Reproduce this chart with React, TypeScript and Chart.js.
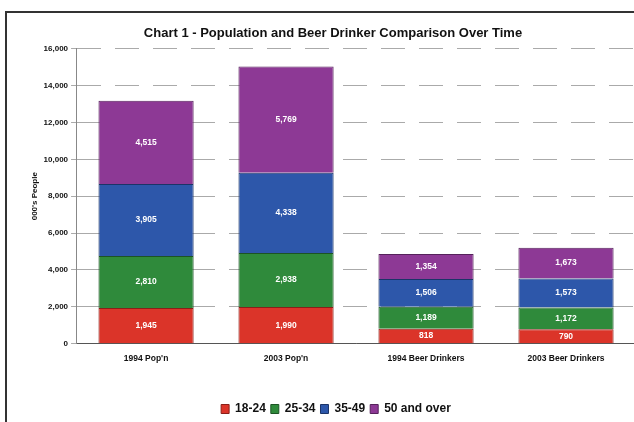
import React, { useEffect, useRef } from "react";
import { Chart, registerables } from "chart.js";

Chart.register(...registerables);

const categories = ["1994 Pop'n", "2003 Pop'n", "1994 Beer Drinkers", "2003 Beer Drinkers"];
const age18to24 = [1945, 1990, 818, 790];
const age25to34 = [2810, 2938, 1189, 1172];
const age35to49 = [3905, 4338, 1506, 1573];
const age50plus = [4515, 5769, 1354, 1673];
const seriesNames = ["18-24", "25-34", "35-49", "50 and over"];
const titleText = "Chart 1 - Population and Beer Drinker Comparison Over Time";
const yAxisTitle = "000's People";

const FONT = "'Liberation Sans', Arial, sans-serif";

const segmentLabels = {
  id: "segmentLabels",
  afterDatasetsDraw(chart: any) {
    const ctx = chart.ctx;
    ctx.save();
    ctx.fillStyle = "#ffffff";
    ctx.font = `bold 8.5px ${FONT}`;
    ctx.textAlign = "center";
    ctx.textBaseline = "middle";
    chart.data.datasets.forEach((ds: any, i: number) => {
      const meta = chart.getDatasetMeta(i);
      meta.data.forEach((el: any, j: number) => {
        const v = ds.data[j];
        const y = (el.y + el.base) / 2;
        ctx.fillText(v.toLocaleString("en-US"), el.x, y);
      });
    });
    ctx.restore();
  },
};

const legendShift = {
  id: "legendShift",
  afterLayout(chart: any) {
    const lg = chart.legend;
    if (lg) {
      lg.left += 3;
      lg.right += 3;
      lg.top += 3;
      lg.bottom += 3;
    }
  },
};

export default function App() {
  const ref = useRef<HTMLCanvasElement>(null);
  useEffect(() => {
    const colors = ["#db3429", "#2f8a3b", "#2d57aa", "#8d3995"];
    const borders = ["#8a1f18", "#1c5424", "#1b3468", "#55225b"];
    const values = [age18to24, age25to34, age35to49, age50plus];
    const chart = new Chart(ref.current!, {
      type: "bar",
      data: {
        labels: categories,
        datasets: values.map((d, i) => ({
          label: seriesNames[i],
          data: d,
          backgroundColor: colors[i],
          borderColor: borders[i],
          borderWidth: 1,
          barPercentage: 0.68,
          categoryPercentage: 1,
        })),
      },
      plugins: [segmentLabels, legendShift],
      options: {
        animation: false,
        responsive: false,
        layout: { padding: { left: 22, right: 0, top: 4, bottom: 0 } },
        plugins: {
          title: {
            display: true,
            text: titleText,
            color: "#111",
            font: { family: FONT, size: 13, weight: "bold" },
            padding: { top: 8, bottom: 7 },
          },
          legend: {
            position: "bottom",
            labels: {
              color: "#111",
              boxWidth: 8,
              boxHeight: 9,
              padding: 5,
              font: { family: FONT, size: 12, weight: "bold" },
            },
          },
          tooltip: { enabled: false },
        },
        scales: {
          x: {
            stacked: true,
            grid: { display: false },
            border: { color: "#555" },
            ticks: { color: "#111", font: { family: FONT, size: 8.5, weight: "bold" }, padding: 2 },
            afterFit: (s: any) => {
              s.height += 29;
            },
          },
          y: {
            stacked: true,
            min: 0,
            max: 16000,
            ticks: {
              stepSize: 2000,
              color: "#111",
              font: { family: FONT, size: 8, weight: "bold" },
              padding: 3,
              callback: (v: any) => Number(v).toLocaleString("en-US"),
            },
            grid: { color: "#aaa", tickLength: 5, drawTicks: true },
            border: { color: "#888", dash: [24, 14] },
            title: {
              display: true,
              text: yAxisTitle,
              color: "#111",
              font: { family: FONT, size: 8, weight: "bold" },
              padding: { top: 0, bottom: 1 },
            },
          },
        },
      },
    });
    return () => chart.destroy();
  }, []);
  return (
    <div style={{ position: "fixed", left: 0, top: 0, width: 634, height: 422, background: "#fff", overflow: "hidden" }}>
      <div
        style={{
          position: "absolute",
          left: 5,
          top: 11,
          width: 640,
          height: 420,
          borderLeft: "2px solid #333",
          borderTop: "2px solid #333",
        }}
      />
      <canvas ref={ref} width={628} height={408} style={{ position: "absolute", left: 8, top: 14 }} />
    </div>
  );
}
